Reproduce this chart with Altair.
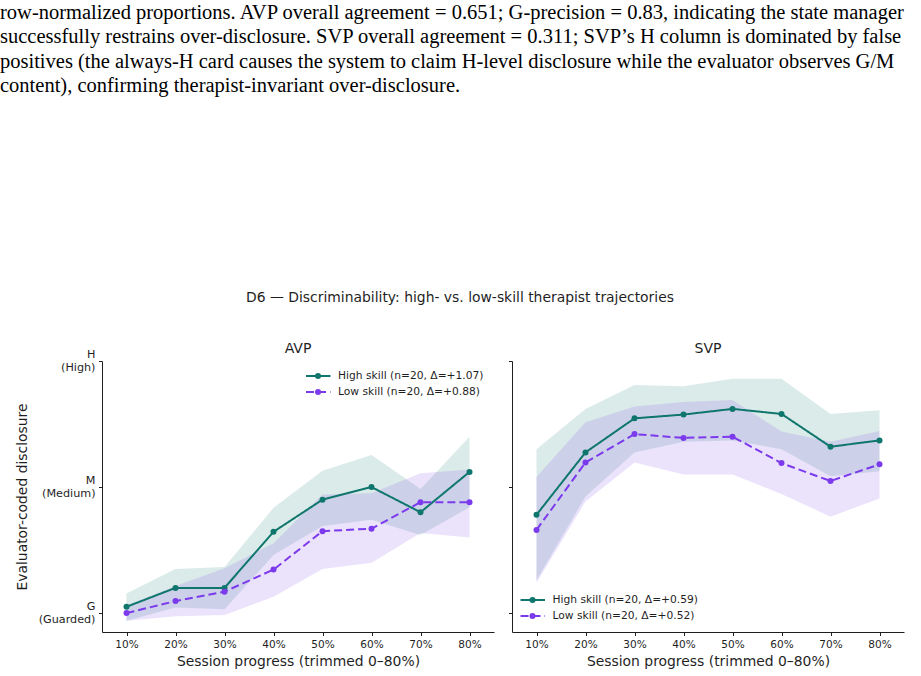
import altair as alt
import pandas as pd

# ---- caption text above the figure ----
caption_lines = [
    "row-normalized proportions.  AVP overall agreement = 0.651; G-precision = 0.83, indicating the state manager",
    "successfully restrains over-disclosure.  SVP overall agreement = 0.311; SVP\u2019s H column is dominated by false",
    "positives (the always-H card causes the system to claim H-level disclosure while the evaluator observes G/M",
    "content), confirming therapist-invariant over-disclosure.",
]

fig_title = "D6 \u2014 Discriminability: high- vs. low-skill therapist trajectories"

# ---- data ----
pct = [10, 20, 30, 40, 50, 60, 70, 80]
groups = ["High skill", "Low skill"]

avp_high_mean = [0.05, 0.20, 0.20, 0.645, 0.90, 1.00, 0.80, 1.12]
avp_high_lo = [-0.06, 0.045, 0.03, 0.46, 0.69, 0.74, 0.62, 0.84]
avp_high_hi = [0.155, 0.35, 0.365, 0.835, 1.13, 1.255, 0.985, 1.40]
avp_low_mean = [0.0, 0.095, 0.17, 0.345, 0.65, 0.67, 0.88, 0.88]
avp_low_lo = [-0.06, -0.025, -0.015, 0.13, 0.35, 0.40, 0.635, 0.60]
avp_low_hi = [0.06, 0.215, 0.355, 0.555, 0.94, 0.95, 1.11, 1.14]
avp_legend = ["High skill (n=20, \u0394=+1.07)", "Low skill (n=20, \u0394=+0.88)"]

svp_high_mean = [0.78, 1.275, 1.545, 1.575, 1.62, 1.58, 1.32, 1.37]
svp_high_lo = [0.26, 0.925, 1.275, 1.36, 1.37, 1.30, 1.085, 1.125]
svp_high_hi = [1.30, 1.62, 1.81, 1.80, 1.86, 1.86, 1.58, 1.61]
svp_low_mean = [0.66, 1.195, 1.42, 1.39, 1.40, 1.19, 1.048, 1.18]
svp_low_lo = [0.24, 0.885, 1.195, 1.10, 1.10, 0.945, 0.765, 0.91]
svp_low_hi = [1.08, 1.515, 1.64, 1.675, 1.69, 1.44, 1.36, 1.445]
svp_legend = ["High skill (n=20, \u0394=+0.59)", "Low skill (n=20, \u0394=+0.52)"]

TEAL = "#0f766e"
PURPLE = "#7c3aed"
INK = "#1f1f1f"
FONT = "DejaVu Sans"
DASH = [8, 4]

W, H = 392, 271
TOP_PAD = 3


def frame(series):
    rows = []
    for g, (m, lo, hi) in zip(groups, series):
        for p, a, b, c in zip(pct, m, lo, hi):
            rows.append({"pct": p, "group": g, "mean": a, "lo": b, "hi": c})
    return pd.DataFrame(rows)


color = alt.Color("group:N", scale=alt.Scale(domain=groups, range=[TEAL, PURPLE]), legend=None)
dash = alt.StrokeDash("group:N", scale=alt.Scale(domain=groups, range=[[1, 0], DASH]), legend=None)
xenc = alt.X(
    "pct:Q",
    scale=alt.Scale(domain=[5, 85], nice=False, zero=False),
    axis=alt.Axis(values=pct, labelExpr="datum.value + '%'",
                  title="Session progress (trimmed 0\u201380%)"),
)
yscale = alt.Scale(domain=[-0.15, 2.0], nice=False, zero=False)
label_expr = ("datum.value == 0 ? ['G', '(Guarded)'] : datum.value == 1 ? "
              "['M', '(Medium)'] : ['H', '(High)']")

one = alt.Data(values=[{}])


def legend_layers(x0, y0, labels):
    out = []
    for i, (g, lab) in enumerate(zip(groups, labels)):
        c = TEAL if g == groups[0] else PURPLE
        d = [1, 0] if g == groups[0] else DASH
        yy = y0 + 16 * i
        out.append(alt.Chart(one).mark_rule(color=c, strokeWidth=2, strokeDash=d).encode(
            x=alt.value(x0), x2=alt.value(x0 + 24.5), y=alt.value(yy)))
        out.append(alt.Chart(one).mark_point(filled=True, size=36, opacity=1, color=c).encode(
            x=alt.value(x0 + 12), y=alt.value(yy)))
        out.append(alt.Chart(one).mark_text(align="left", baseline="middle", fontSize=10.7,
                                           font=FONT, color=INK).encode(
            x=alt.value(x0 + 32), y=alt.value(yy), text=alt.value(lab)))
    return out


def panel_title(name):
    return alt.Chart(one).mark_text(
        text=name, align="center", baseline="middle", font=FONT, fontSize=14, color=INK,
    ).encode(x=alt.value(W / 2), y=alt.value(-12))


def panel(df, name, yaxis, extra):
    base = alt.Chart(df)
    band = base.mark_area(opacity=0.15).encode(
        x=xenc, y=alt.Y("lo:Q", scale=yscale, axis=yaxis), y2="hi:Q", color=color)
    line = base.mark_line(strokeWidth=2).encode(
        x=xenc, y=alt.Y("mean:Q", scale=yscale, axis=yaxis), color=color, strokeDash=dash)
    pts = base.mark_point(filled=True, size=36, opacity=1).encode(
        x=xenc, y=alt.Y("mean:Q", scale=yscale, axis=yaxis), color=color)
    return alt.layer(band, line, pts, panel_title(name), *extra).properties(width=W, height=H)


left_axis = alt.Axis(values=[0, 1, 2], labelExpr=label_expr, labelLineHeight=13,
                     labelOffset=-6.5, labelFontSize=11.2,
                     title="Evaluator-coded disclosure", titlePadding=9)
right_axis = alt.Axis(values=[0, 1, 2], labels=False, title=None)

avp = frame([(avp_high_mean, avp_high_lo, avp_high_hi), (avp_low_mean, avp_low_lo, avp_low_hi)])
svp = frame([(svp_high_mean, svp_high_lo, svp_high_hi), (svp_low_mean, svp_low_lo, svp_low_hi)])

# caption sits above the left panel; its top edge defines the figure's top
caption = alt.Chart(one).mark_text(
    text=caption_lines, align="left", baseline="top", font="Liberation Serif",
    fontSize=20.5, lineHeight=24.4, color="black",
).encode(x=alt.value(-102), y=alt.value(TOP_PAD - 361))
suptitle = alt.Chart(one).mark_text(
    text=fig_title, align="center", baseline="middle", font=FONT, fontSize=13.9, color=INK,
).encode(x=alt.value(358), y=alt.value(-63))

left = panel(avp, "AVP", left_axis, legend_layers(204, 15, avp_legend) + [caption, suptitle])
right = panel(svp, "SVP", right_axis, legend_layers(8.5, 239, svp_legend))

chart = alt.hconcat(left, right, spacing=18, bounds="flush").properties(
    padding={"left": 0, "top": TOP_PAD, "right": 0, "bottom": 0}, background="white",
).configure_view(stroke=None).configure_axis(
    grid=False, domainColor=INK, tickColor=INK, labelColor=INK, titleColor=INK,
    domainWidth=1, tickWidth=1, tickSize=3.5, labelPadding=3.5,
    labelFont=FONT, titleFont=FONT, labelFontSize=10.5, titleFontSize=13.9,
    titleFontWeight="normal",
).configure_axisX(titlePadding=5)

chart.save("out.html", embed_options={"renderer": "svg", "actions": False})
